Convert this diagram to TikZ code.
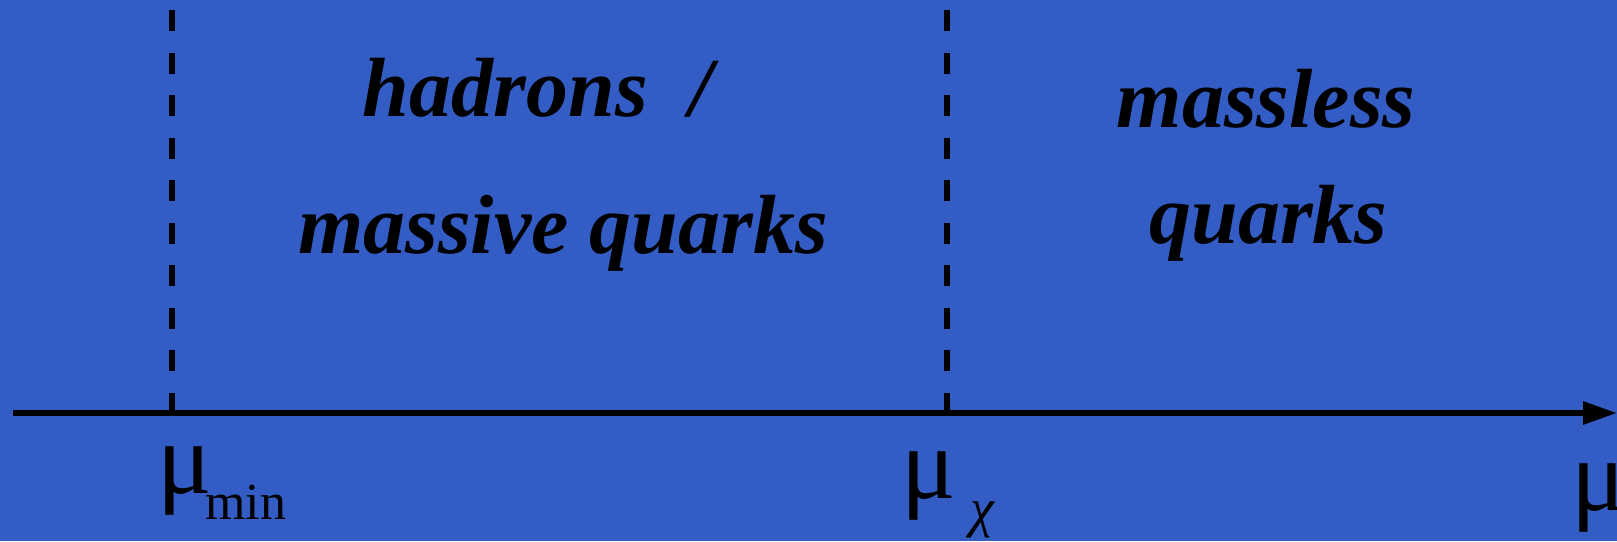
\documentclass[tikz,border=0pt]{standalone}
\usepackage{fontspec}
\setmainfont{Liberation Serif}
\usetikzlibrary{arrows.meta}
\definecolor{bg}{RGB}{51,93,197}
\tikzset{
  region/.style={font=\fontsize{42}{42}\selectfont\bfseries\itshape, inner sep=0pt, anchor=base},
  scale label/.style={font=\fontsize{51}{51}\selectfont, inner sep=0pt, anchor=base west},
  boundary/.style={line width=3pt, dash pattern=on 10.5pt off 10.75pt},
  axis/.style={line width=3pt, -{Triangle[length=17pt,width=11pt]}}
}
\begin{document}
\begin{tikzpicture}[x=0.5pt,y=-0.5pt]
\clip (0,0) rectangle (1617,541);
\fill[bg] (0,0) rectangle (1617,541);
% axis
\coordinate (a0) at (12.7,413);
\coordinate (a1) at (1617,413);
\draw[axis] (a0) -- (a1);
% boundaries
\coordinate (d1t) at (172,10);
\coordinate (d1b) at (172,413.5);
\coordinate (d2t) at (947,10);
\coordinate (d2b) at (947,413.5);
\draw[boundary] (d1t) -- (d1b);
\draw[boundary] (d2t) -- (d2b);
% region labels
\node[region] (l1) at (538,116) {hadrons\ \ /};
\node[region] (l2) at (563,253) {massive quarks};
\node[region] (r1) at (1266,127) {massless};
\node[region] (r2) at (1268.5,243) {quarks};
% scale labels
\node[scale label] (mumin) at (157.5,493) {μ\hspace{-3.6pt}\raisebox{-13pt}{\fontsize{26}{26}\selectfont min}};
\node[scale label] (muchi) at (901.5,498) {μ\hspace{7pt}\raisebox{-14pt}{\fontsize{27}{27}\selectfont\itshape χ}};
\node[scale label] (mu) at (1571.5,510) {μ};
\end{tikzpicture}
\end{document}
